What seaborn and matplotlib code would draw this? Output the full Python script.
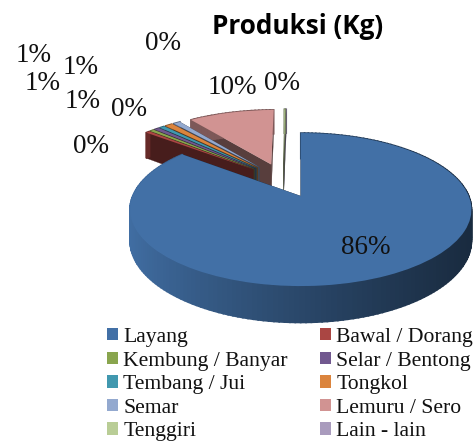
import numpy as np
import matplotlib
matplotlib.use("Agg")
import matplotlib.pyplot as plt
from matplotlib.transforms import Transform
import seaborn as sns

categories = ["Layang", "Bawal / Dorang", "Kembung / Banyar", "Selar / Bentong", "Tembang / Jui",
              "Tongkol", "Semar", "Lemuru / Sero", "Tenggiri", "Lain - lain"]
values = [85.7, 0.49, 0.49, 0.6, 0.6, 0.9, 0.8, 10.2, 0.1, 0.1]
colors = ["#4270a6", "#AA4643", "#89A54E", "#71588F", "#4198AF",
          "#DB843D", "#93A9CF", "#D19392", "#B9CD96", "#A99BBD"]
label_px = [(366, 247), (91, 146), (129, 109), (83, 101), (43, 84),
            (81, 68), (34, 55), (232, 88), (163, 43), (282, 84)]

CX, CY, A, B, K, DEPTH = 301.0, 196.0, 168.0, 74.1, 0.176, 30.0


class Persp(Transform):
    input_dims = output_dims = 2

    def transform_non_affine(self, pts):
        pts = np.asarray(pts, float)
        w = 1 + K * pts[:, 1]
        return np.column_stack([CX + A * pts[:, 0] / w, CY - B * pts[:, 1] / w])


def project(u, v, drop=0.0):
    w = 1 + K * v
    return CX + A * u / w, CY - B * v / w + drop * DEPTH / w


sns.set_theme(style="white")
palette = sns.color_palette(colors)
fig = plt.figure(figsize=(4.77, 4.44), dpi=100)
ax = fig.add_axes([0, 0, 1, 1])
wedges, _ = ax.pie(values, colors=palette, explode=[0.25] * len(values), startangle=90,
                   counterclock=False, center=(-0.11, 0.224), radius=1.0,
                   wedgeprops=dict(linewidth=0))
ax.set_aspect("auto")
ax.set_xlim(0, 477)
ax.set_ylim(444, 0)
ax.axis("off")
persp = Persp() + ax.transData


def shade(color, f):
    return tuple(f * c for c in matplotlib.colors.to_rgb(color))


def side_faces(wedge, z, base):
    cu, cv = wedge.center
    for th in (wedge.theta1, wedge.theta2):
        t = np.radians(th)
        eu, ev = cu + np.cos(t), cv + np.sin(t)
        a, b = project(cu, cv), project(eu, ev)
        c, d = project(eu, ev, 1), project(cu, cv, 1)
        ax.fill([a[0], b[0], c[0], d[0]], [a[1], b[1], c[1], d[1]],
                color=shade(base, 0.42), lw=0.2, zorder=z)


n = len(wedges)
order = list(range(n - 1, -1, -1))
for rank, i in enumerate(order):
    w = wedges[i]
    z = 10 + rank * 3
    w.set_transform(persp)
    w.set_zorder(z + 2)
    side_faces(w, z, colors[i])
    cu, cv = w.center
    thetas = np.linspace(w.theta1, w.theta2, max(int((w.theta2 - w.theta1) / 1.5), 2))
    for t0, t1 in zip(thetas[:-1], thetas[1:]):
        r0, r1 = np.radians(t0), np.radians(t1)
        p0 = (cu + np.cos(r0), cv + np.sin(r0))
        p1 = (cu + np.cos(r1), cv + np.sin(r1))
        q = [project(*p0), project(*p1), project(*p1, 1), project(*p0, 1)]
        xs, ys = zip(*q)
        frac = np.clip((np.mean(xs) - 131) / 342, 0, 1)
        col = shade(colors[i], 0.98 - 0.60 * frac ** 0.8) if i == 0 else shade(colors[i], 0.6)
        ax.fill(xs, ys, facecolor=col, edgecolor=col, lw=1.2, zorder=z + 1)

for v, (x, y) in zip(values, label_px):
    ax.text(x, y, f"{v:.0f}%", ha="center", va="center", family="Liberation Serif",
            fontsize=19.5, color="#111111", zorder=60)

ax.text(298, 27, "Produksi (Kg)", ha="center", va="center", family="Open Sans",
        fontweight="bold", fontsize=18.8, color="black", zorder=60)

legend_order = [0, 2, 4, 6, 8, 1, 3, 5, 7, 9]
leg = ax.legend([wedges[i] for i in legend_order], [categories[i] for i in legend_order],
                ncol=2, loc="upper left", bbox_to_anchor=(107 / 477, 1 - 328 / 444),
                bbox_transform=fig.transFigure, frameon=False, borderpad=0, borderaxespad=0,
                prop=dict(family="Liberation Serif", size=15.6), handlelength=0.5, handleheight=0.5,
                handletextpad=0.25, columnspacing=1.48, labelspacing=0.21, labelcolor="#111111")
fig.savefig("out.png", dpi=100)
